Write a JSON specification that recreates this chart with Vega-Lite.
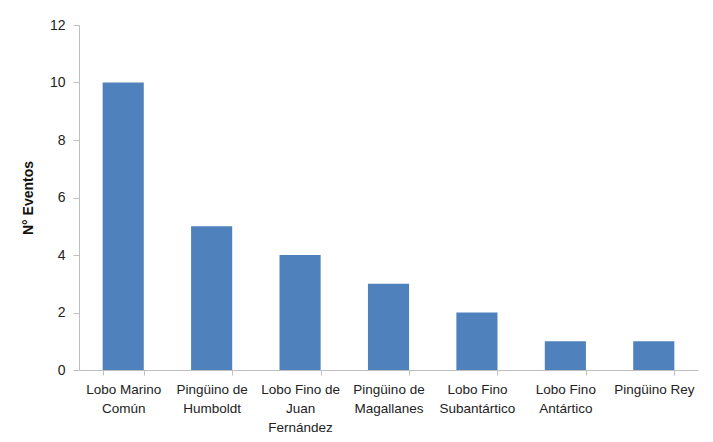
{
  "$schema": "https://vega.github.io/schema/vega-lite/v6.json",
  "width": 619,
  "height": 345,
  "autosize": {"type": "none"},
  "padding": {"left": 79, "top": 25, "right": 15, "bottom": 72},
  "background": "white",
  "config": {"view": {"stroke": null}, "font": "Liberation Sans"},
  "data": {"values": [
    {"especie": "Lobo Marino|Común", "eventos": 10},
    {"especie": "Pingüino de|Humboldt", "eventos": 5},
    {"especie": "Lobo Fino de|Juan|Fernández", "eventos": 4},
    {"especie": "Pingüino de|Magallanes", "eventos": 3},
    {"especie": "Lobo Fino|Subantártico", "eventos": 2},
    {"especie": "Lobo Fino|Antártico", "eventos": 1},
    {"especie": "Pingüino Rey", "eventos": 1}
  ]},
  "mark": {"type": "bar", "color": "#4F81BD"},
  "encoding": {
    "x": {
      "field": "especie", "type": "nominal", "sort": null,
      "scale": {"paddingInner": 0.535, "paddingOuter": 0.2675},
      "axis": {
        "title": null, "labelAngle": 0, "labelExpr": "split(datum.label, '|')",
        "labelFontSize": 13.5, "labelColor": "#222", "labelLineHeight": 19,
        "labelPadding": 7, "domainColor": "#BFBFBF", "tickColor": "#BFBFBF",
        "tickSize": 5, "tickBand": "extent", "labelLimit": 200
      }
    },
    "y": {
      "field": "eventos", "type": "quantitative",
      "scale": {"domain": [0, 12]},
      "axis": {
        "title": "N° Eventos", "titleFontSize": 14, "titleFontWeight": "bold",
        "titleColor": "#111", "titlePadding": 14,
        "values": [0, 2, 4, 6, 8, 10, 12], "grid": false,
        "labelFontSize": 14, "labelColor": "#222", "labelPadding": 8,
        "domainColor": "#BFBFBF", "tickColor": "#BFBFBF", "tickSize": 6
      }
    }
  }
}
